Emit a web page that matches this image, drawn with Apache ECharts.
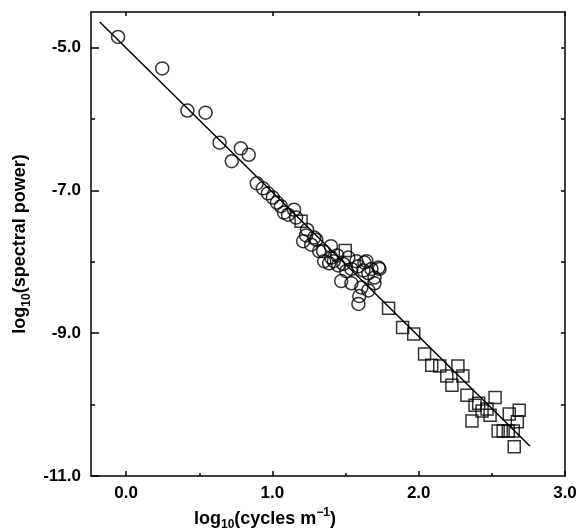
<!DOCTYPE html>
<html>
<head>
<meta charset="utf-8">
<script src="https://cdn.jsdelivr.net/npm/echarts@6/dist/echarts.min.js"></script>
<style>
html,body{margin:0;padding:0;background:#fff;}
#chart{width:576px;height:528px;}
</style>
</head>
<body>
<div id="chart"></div>
<script>
// Circle series (log10 cycles/m, log10 spectral power)
var circleX = [-0.055, 0.247, 0.419, 0.543, 0.639, 0.722, 0.784, 0.838, 0.893, 0.935, 0.969, 1.003, 1.031, 1.058, 1.079, 1.107, 1.148, 1.162,
  1.21, 1.23, 1.265, 1.285, 1.32, 1.347, 1.40, 1.354, 1.388, 1.42, 1.45, 1.485, 1.505, 1.54, 1.588, 1.629, 1.622, 1.656, 1.677, 1.698, 1.725,
  1.47, 1.54, 1.594, 1.588, 1.608, 1.656, 1.698, 1.732, 1.519, 1.574, 1.643, 1.443, 1.402, 1.30, 1.237];
var circleY = [-4.85, -5.29, -5.88, -5.91, -6.33, -6.59, -6.41, -6.50, -6.90, -6.97, -7.04, -7.10, -7.17, -7.22, -7.31, -7.34, -7.27, -7.38,
  -7.71, -7.63, -7.76, -7.66, -7.85, -7.85, -7.78, -7.99, -8.02, -7.99, -8.05, -8.03, -8.13, -8.10, -8.06, -8.01, -8.12, -8.16, -8.10, -8.22, -8.08,
  -8.27, -8.30, -8.48, -8.59, -8.36, -8.40, -8.30, -8.10, -7.94, -7.99, -7.99, -7.91, -7.94, -7.69, -7.55];
// Square series
var squareX = [1.196, 1.498, 1.794, 1.89, 1.966, 2.04, 2.089, 2.144, 2.268, 2.192, 2.302, 2.227, 2.33, 2.385, 2.433, 2.467, 2.522, 2.488,
  2.364, 2.619, 2.687, 2.674, 2.543, 2.577, 2.612, 2.646, 2.653, 2.41];
var squareY = [-7.43, -7.84, -8.65, -8.92, -9.01, -9.29, -9.45, -9.46, -9.46, -9.60, -9.60, -9.73, -9.87, -10.01, -10.09, -10.06, -9.90, -10.15,
  -10.23, -10.13, -10.08, -10.24, -10.37, -10.37, -10.37, -10.37, -10.59, -9.98];
// Fitted line end points
var fitX = [-0.18, 2.76];
var fitY = [-4.64, -10.58];
// Tick values
var xLabelTicks = [0, 1, 2, 3];
var xMinorTicks = [0.5, 1.5, 2.5];
var yLabelTicks = [-11, -9, -7, -5];
var yMinorTicks = [-10, -8, -6];
var yAllTicks = [-10, -9, -8, -7, -6, -5];

function zip(a, b) { return a.map(function (v, i) { return [v, b[i]]; }); }

var FONT = '"Liberation Sans", Arial, Helvetica, sans-serif';
var richName = {
  n: { fontFamily: FONT, fontWeight: 'bold', fontSize: 18, color: '#000', lineHeight: 24 },
  sub: { fontFamily: FONT, fontWeight: 'bold', fontSize: 12, color: '#000', lineHeight: 24, verticalAlign: 'bottom' },
  sup: { fontFamily: FONT, fontWeight: 'bold', fontSize: 12, color: '#000', lineHeight: 24, verticalAlign: 'top' }
};
var lineStyle = { color: '#000', width: 1.5 };
var xMin = -0.24, xMax = 3.0, yMin = -11, yMax = -4.5;

var chart = echarts.init(document.getElementById('chart'));
chart.setOption({
  animation: false,
  backgroundColor: '#fff',
  grid: { left: 91, right: 11, top: 12, bottom: 52, outerBoundsMode: 'none', containLabel: false },
  xAxis: [
    {
      type: 'value', position: 'bottom', min: xMin, max: xMax,
      axisLine: { show: true, onZero: false, lineStyle: lineStyle },
      axisTick: { show: true, inside: true, length: 5, customValues: xLabelTicks, lineStyle: lineStyle },
      axisLabel: { show: true, customValues: xLabelTicks, margin: 9, formatter: function (v) { return v.toFixed(1); }, color: '#000', fontFamily: FONT, fontWeight: 'bold', fontSize: 17 },
      splitLine: { show: false },
      name: '{n|log}{sub|10}{n|(cycles m}{sup|\u22121}{n|)}',
      nameLocation: 'middle', nameGap: 26,
      nameTextStyle: { rich: richName, padding: [0, 126, 0, 0] }
    },
    {
      type: 'value', position: 'bottom', min: xMin, max: xMax,
      axisLine: { show: false, onZero: false },
      axisTick: { show: true, inside: true, length: 3, customValues: xMinorTicks, lineStyle: lineStyle },
      axisLabel: { show: false }, splitLine: { show: false }
    },
    {
      type: 'value', position: 'top', min: xMin, max: xMax,
      axisLine: { show: true, onZero: false, lineStyle: lineStyle },
      axisTick: { show: true, inside: true, length: 4, customValues: xLabelTicks, lineStyle: lineStyle },
      axisLabel: { show: false }, splitLine: { show: false }
    }
  ],
  yAxis: [
    {
      type: 'value', position: 'left', min: yMin, max: yMax,
      axisLine: { show: true, onZero: false, lineStyle: lineStyle },
      axisTick: { show: true, inside: true, length: 8, customValues: yLabelTicks, lineStyle: lineStyle },
      axisLabel: { show: true, customValues: yLabelTicks, margin: 10, formatter: function (v) { return v.toFixed(1); }, color: '#000', fontFamily: FONT, fontWeight: 'bold', fontSize: 17 },
      splitLine: { show: false },
      name: '{n|log}{sub|10}{n|(spectral power)}',
      nameLocation: 'middle', nameGap: 54, nameRotate: 90,
      nameTextStyle: { rich: richName }
    },
    {
      type: 'value', position: 'left', min: yMin, max: yMax,
      axisLine: { show: false, onZero: false },
      axisTick: { show: true, inside: true, length: 4, customValues: yMinorTicks, lineStyle: lineStyle },
      axisLabel: { show: false }, splitLine: { show: false }
    },
    {
      type: 'value', position: 'right', min: yMin, max: yMax,
      axisLine: { show: true, onZero: false, lineStyle: lineStyle },
      axisTick: { show: true, inside: true, length: 4, customValues: yAllTicks, lineStyle: lineStyle },
      axisLabel: { show: false }, splitLine: { show: false }
    }
  ],
  series: [
    {
      type: 'line', xAxisIndex: 0, yAxisIndex: 0, data: zip(fitX, fitY),
      showSymbol: false, symbol: 'none', lineStyle: { color: '#000', width: 1.5 }, z: 3
    },
    {
      type: 'scatter', xAxisIndex: 0, yAxisIndex: 0, data: zip(circleX, circleY),
      symbol: 'circle', symbolSize: 13,
      itemStyle: { color: 'rgba(0,0,0,0)', borderColor: '#000', borderWidth: 1.5 }, z: 4
    },
    {
      type: 'scatter', xAxisIndex: 0, yAxisIndex: 0, data: zip(squareX, squareY),
      symbol: 'rect', symbolSize: 12,
      itemStyle: { color: 'rgba(0,0,0,0)', borderColor: '#000', borderWidth: 1.5 }, z: 4
    }
  ]
});
</script>
</body>
</html>
